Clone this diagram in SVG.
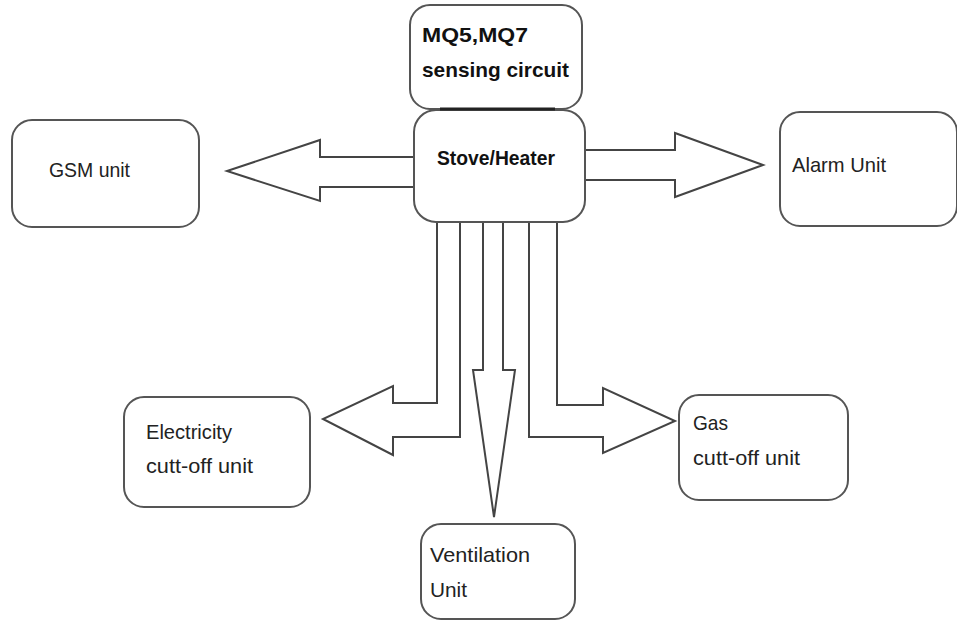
<svg xmlns="http://www.w3.org/2000/svg" width="957" height="622" viewBox="0 0 957 622">
<style>
.box{fill:#fff;stroke:#555;stroke-width:2}
.arr{fill:#fff;stroke:#444;stroke-width:2;stroke-linejoin:miter}
.lbl{font-family:"Liberation Sans",Arial,sans-serif;font-size:21px;fill:#222}
.bold{font-family:"Liberation Sans",Arial,sans-serif;font-weight:bold;fill:#111}
</style>
<rect width="957" height="622" fill="#fff"/>
<g id="connectors">
<polygon class="arr" points="414,157 320,157 320,140 227,171 320,201 320,187 414,187"/>
<polygon class="arr" points="585,150 675,150 675,133 763,165 675,197 675,180 585,180"/>
<polygon class="arr" points="437,222 437,403 393,403 393,386 323,419 393,455 393,437 460,437 460,222"/>
<polygon class="arr" points="483,222 483,370 473,370 494,517 515,370 503,370 503,222"/>
<polygon class="arr" points="557,222 557,405 603,405 603,388 675,421 603,453 603,437 529,437 529,222"/>
</g>
<g id="mq-sensing">
<rect class="box" x="410" y="5" width="172" height="104" rx="20"/>
<text class="bold" x="422" y="42" font-size="21" textLength="106" lengthAdjust="spacingAndGlyphs">MQ5,MQ7</text>
<text class="bold" x="422" y="77" font-size="21" textLength="147" lengthAdjust="spacingAndGlyphs">sensing circuit</text>
</g>
<g id="stove">
<rect class="box" x="414" y="110" width="171" height="112" rx="22"/>
<line x1="440" y1="109" x2="555" y2="109" stroke="#222" stroke-width="3"/>
<text class="bold" x="437" y="165" font-size="20" textLength="118" lengthAdjust="spacingAndGlyphs">Stove/Heater</text>
</g>
<g id="gsm">
<rect class="box" x="12" y="120" width="187" height="107" rx="20"/>
<text class="lbl" x="49" y="177" textLength="81" lengthAdjust="spacingAndGlyphs">GSM unit</text>
</g>
<g id="alarm">
<rect class="box" x="780" y="112" width="177" height="114" rx="20"/>
<text class="lbl" x="792" y="172" textLength="94" lengthAdjust="spacingAndGlyphs">Alarm Unit</text>
</g>
<g id="electricity">
<rect class="box" x="124" y="397" width="186" height="110" rx="20"/>
<text class="lbl" x="146" y="439" textLength="86" lengthAdjust="spacingAndGlyphs">Electricity</text>
<text class="lbl" x="146" y="473" textLength="107" lengthAdjust="spacingAndGlyphs">cutt-off unit</text>
</g>
<g id="gas">
<rect class="box" x="679" y="395" width="169" height="105" rx="20"/>
<text class="lbl" x="693" y="430" textLength="35" lengthAdjust="spacingAndGlyphs">Gas</text>
<text class="lbl" x="693" y="465" textLength="107" lengthAdjust="spacingAndGlyphs">cutt-off unit</text>
</g>
<g id="ventilation">
<rect class="box" x="421" y="524" width="154" height="95" rx="20"/>
<text class="lbl" x="430" y="562" textLength="100" lengthAdjust="spacingAndGlyphs">Ventilation</text>
<text class="lbl" x="430" y="597" textLength="37" lengthAdjust="spacingAndGlyphs">Unit</text>
</g>
</svg>
